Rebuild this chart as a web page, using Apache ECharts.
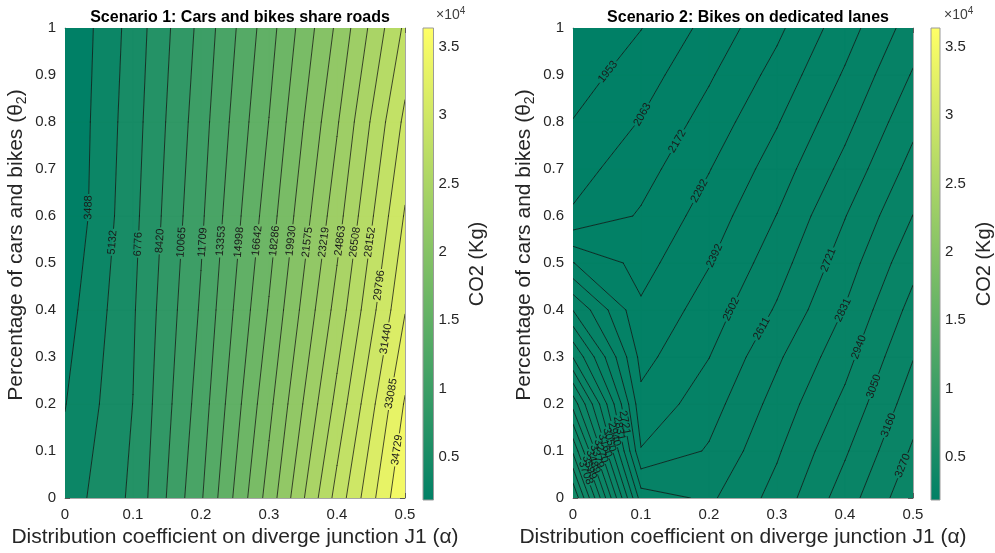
<!DOCTYPE html>
<html>
<head>
<meta charset="utf-8">
<script src="https://cdn.jsdelivr.net/npm/echarts@6.0.0/dist/echarts.min.js"></script>
<style>
html,body{margin:0;padding:0;background:#ffffff;}
#chart{width:995px;height:553px;}
</style>
</head>
<body>
<div id="chart"></div>
<script>
// ---------------- DATA ----------------
const alphaValues = [0, 0.1, 0.2, 0.3, 0.4, 0.5];

// Scenario 1: rows = theta values, columns = alpha values (CO2 in kg)
const thetaValuesS1 = [0, 0.2, 0.4, 0.6, 0.8, 1.0];
const co2S1 = [
  [4200, 7105, 13158, 20626, 28758, 36373],
  [3427, 6797, 12497, 19484, 27006, 34900],
  [2767, 6586, 11918, 18420, 25481, 33000],
  [2030, 6290, 11420, 17490, 24180, 31600],
  [1971, 6042, 10992, 16678, 23044, 30200],
  [1844, 5790, 10549, 15960, 21884, 28480]
];

// Scenario 2: rows = theta values, columns = alpha values (CO2 in kg)
const thetaValuesS2 = [0, 0.1, 0.2, 0.3, 0.4, 0.5, 0.6, 0.7, 0.8, 0.9, 1.0];
const co2S2 = [
  [4148, 2777, 2700, 2871, 3105, 3355],
  [3800, 2509, 2623, 2817, 3036, 3286],
  [3450, 2424, 2563, 2763, 2967, 3220],
  [3045, 2357, 2500, 2703, 2902, 3155],
  [2718, 2299, 2444, 2624, 2837, 3088],
  [2395, 2242, 2386, 2563, 2777, 3016],
  [2077, 2185, 2332, 2505, 2717, 2942],
  [2020, 2127, 2277, 2445, 2645, 2871],
  [1957, 2069, 2217, 2384, 2578, 2801],
  [1900, 2011, 2158, 2321, 2515, 2731],
  [1843, 1950, 2098, 2258, 2453, 2663]
];

const levelsS1 = [3488, 5132, 6776, 8420, 10065, 11709, 13353, 14998, 16642, 18286,
                  19930, 21575, 23219, 24863, 26508, 28152, 29796, 31440, 33085, 34729];
const levelsS2 = [1953, 2063, 2172, 2282, 2392, 2502, 2611, 2721, 2831, 2940,
                  3050, 3160, 3270, 3379, 3489, 3599, 3708, 3818, 3928, 4038];
const minS1 = 1844;
const minS2 = 1843;
const colorLimits = [1843, 36373];
const colorbarTicks = [5000, 10000, 15000, 20000, 25000, 30000, 35000];

// ---------------- LAYOUT: contour-label anchors [level, alpha, theta] ----------------
const labelAnchorsS1 = [
  [3488, .034, .618], [5132, .071, .544], [6776, .110, .540], [8420, .141, .547],
  [10065, .172, .544], [11709, .203, .544], [13353, .230, .547], [14998, .257, .544],
  [16642, .284, .547], [18286, .309, .547], [19930, .334, .547], [21575, .358, .544],
  [23219, .382, .544], [24863, .406, .547], [26508, .428, .544], [28152, .451, .544],
  [29796, .463, .452], [31440, .471, .339], [33085, .480, .222], [34729, .490, .102]
];
const labelAnchorsS2 = [
  [1953, .051, .907], [2063, .103, .815], [2172, .157, .756], [2282, .190, .650],
  [2392, .209, .515], [2502, .235, .400], [2611, .282, .357], [2721, .373, .508],
  [2831, .397, .400], [2940, .422, .320], [3050, .443, .237], [3160, .464, .155],
  [3270, .483, .070],
  [2721, .075, .160], [2831, .068, .148], [2940, .061, .136], [3050, .054, .124],
  [3160, .046, .111], [3270, .039, .099], [3379, .032, .087], [3489, .025, .075],
  [3599, .018, .062], [3708, .011, .050]
];

const FONT = '"Liberation Sans", Arial, Helvetica, sans-serif';
const TEXT_COLOR = '#262626';

// MATLAB "summer" colormap
function summerColor(v) {
  let t = (v - colorLimits[0]) / (colorLimits[1] - colorLimits[0]);
  t = Math.max(0, Math.min(1, t));
  return 'rgb(' + Math.round(255 * t) + ',' + Math.round(255 * (0.5 + 0.5 * t)) + ',102)';
}

function lerpPt(pa, pb, t) {
  return [pa[0] + (pb[0] - pa[0]) * t, pa[1] + (pb[1] - pa[1]) * t];
}

// filled band polygon inside one grid cell (perimeter walk)
function bandPolygon(pts, vals, lo, hi) {
  const out = [];
  for (let k = 0; k < 4; k++) {
    const a = vals[k], b = vals[(k + 1) % 4];
    const pa = pts[k], pb = pts[(k + 1) % 4];
    if (a >= lo && a < hi) out.push(pa);
    const ts = [];
    if (isFinite(lo) && ((a >= lo) !== (b >= lo))) ts.push((lo - a) / (b - a));
    if (isFinite(hi) && ((a >= hi) !== (b >= hi))) ts.push((hi - a) / (b - a));
    ts.sort((x, y) => x - y);
    ts.forEach(t => out.push(lerpPt(pa, pb, t)));
  }
  return out;
}

function crossings(pts, vals, L) {
  const out = [];
  for (let k = 0; k < 4; k++) {
    const a = vals[k], b = vals[(k + 1) % 4];
    if ((a >= L) !== (b >= L)) out.push(lerpPt(pts[k], pts[(k + 1) % 4], (L - a) / (b - a)));
  }
  return out;
}

function clipSegment(p, q, holes) {
  let pieces = [[0, 1]];
  const dx = q[0] - p[0], dy = q[1] - p[1];
  const a = dx * dx + dy * dy;
  if (a < 1e-9) return [];
  holes.forEach(h => {
    const fx = p[0] - h.x, fy = p[1] - h.y;
    const b = 2 * (fx * dx + fy * dy), c = fx * fx + fy * fy - h.r * h.r;
    const disc = b * b - 4 * a * c;
    if (disc <= 0) return;
    const s = Math.sqrt(disc), t1 = (-b - s) / (2 * a), t2 = (-b + s) / (2 * a);
    const next = [];
    pieces.forEach(([u, v]) => {
      if (t2 <= u || t1 >= v) { next.push([u, v]); return; }
      if (t1 > u) next.push([u, t1]);
      if (t2 < v) next.push([t2, v]);
    });
    pieces = next;
  });
  return pieces.map(([u, v]) => [lerpPt(p, q, u), lerpPt(p, q, v)]);
}

function contourRenderer(thetaValues, grid, levels, zMin, anchors) {
  return function (params, api) {
    const nx = alphaValues.length, ny = thetaValues.length;
    const P = thetaValues.map(t => alphaValues.map(a => api.coord([a, t])));
    const bounds = [-Infinity].concat(levels, [Infinity]);
    const colors = [zMin].concat(levels).map(summerColor);
    const fills = [];
    const segs = levels.map(() => []);
    for (let j = 0; j < ny - 1; j++) {
      for (let i = 0; i < nx - 1; i++) {
        const pts = [P[j][i], P[j][i + 1], P[j + 1][i + 1], P[j + 1][i]];
        const vals = [grid[j][i], grid[j][i + 1], grid[j + 1][i + 1], grid[j + 1][i]];
        const vmin = Math.min.apply(null, vals), vmax = Math.max.apply(null, vals);
        for (let b = 0; b < bounds.length - 1; b++) {
          const lo = bounds[b], hi = bounds[b + 1];
          if (vmax < lo || vmin >= hi) continue;
          const poly = bandPolygon(pts, vals, lo, hi);
          if (poly.length >= 3) {
            fills.push({
              type: 'polygon', silent: true, shape: { points: poly },
              style: { fill: colors[b], stroke: colors[b], lineWidth: 0.8, lineJoin: 'round' }
            });
          }
        }
        levels.forEach((L, k) => {
          const c = crossings(pts, vals, L);
          if (c.length === 2) segs[k].push([c[0], c[1]]);
          else if (c.length === 4) {
            const center = (vals[0] + vals[1] + vals[2] + vals[3]) / 4;
            if ((center >= L) === (vals[0] >= L)) { segs[k].push([c[0], c[1]]); segs[k].push([c[2], c[3]]); }
            else { segs[k].push([c[1], c[2]]); segs[k].push([c[3], c[0]]); }
          }
        });
      }
    }
    // labels
    const holes = levels.map(() => []);
    const texts = [];
    anchors.forEach(([L, a, t]) => {
      const k = levels.indexOf(L);
      if (k < 0 || !segs[k].length) return;
      const A = api.coord([a, t]);
      let best = null;
      segs[k].forEach(([p, q]) => {
        const dx = q[0] - p[0], dy = q[1] - p[1];
        const len2 = dx * dx + dy * dy || 1e-9;
        let u = ((A[0] - p[0]) * dx + (A[1] - p[1]) * dy) / len2;
        u = Math.max(0, Math.min(1, u));
        const x = p[0] + dx * u, y = p[1] + dy * u;
        const d = (x - A[0]) * (x - A[0]) + (y - A[1]) * (y - A[1]);
        if (!best || d < best.d) best = { d, x, y, dx, dy };
      });
      let ang = Math.atan2(-best.dy, best.dx);
      if (ang > Math.PI / 2) ang -= Math.PI;
      if (ang <= -Math.PI / 2) ang += Math.PI;
      const txt = String(L);
      holes[k].push({ x: best.x, y: best.y, r: txt.length * 3.1 + 1.5 });
      texts.push({
        type: 'text', silent: true, x: best.x, y: best.y, rotation: ang,
        style: { text: txt, x: 0, y: 0, fill: '#1a1a1a', fontSize: 11, fontFamily: FONT,
                 align: 'center', verticalAlign: 'middle' }
      });
    });
    const lines = [];
    segs.forEach((list, k) => {
      list.forEach(([p, q]) => {
        clipSegment(p, q, holes[k]).forEach(([m, n]) => {
          lines.push({
            type: 'line', silent: true,
            shape: { x1: m[0], y1: m[1], x2: n[0], y2: n[1] },
            style: { stroke: '#111111', lineWidth: 0.75, lineCap: 'round' }
          });
        });
      });
    });
    return { type: 'group', children: fills.concat(lines, texts) };
  };
}

function colorbarRenderer(params, api) {
  const p0 = api.coord([0, colorLimits[1]]);
  const p1 = api.coord([1, colorLimits[0]]);
  return {
    type: 'rect', silent: true,
    shape: { x: p0[0], y: p0[1], width: p1[0] - p0[0], height: p1[1] - p0[1] },
    style: {
      fill: new echarts.graphic.LinearGradient(0, 0, 0, 1, [
        { offset: 0, color: summerColor(colorLimits[1]) },
        { offset: 1, color: summerColor(colorLimits[0]) }
      ]),
      stroke: '#9a9a9a', lineWidth: 1
    }
  };
}

// ---------------- AXES ----------------
const axisLineStyle = { color: '#a6a6a6', width: 1 };
const tickStyle = { color: '#5a5a5a', width: 1 };
const tickLabel = { fontSize: 15, color: TEXT_COLOR, fontFamily: FONT };
const NAME_SIZE = 21;

function mainXAxes(gridIndex) {
  return [
    { type: 'value', gridIndex, min: 0, max: 0.5, interval: 0.1, position: 'bottom',
      name: 'Distribution coefficient on diverge junction J1 (\u03b1)', nameLocation: 'middle', nameGap: 29,
      nameTextStyle: { fontSize: NAME_SIZE, color: TEXT_COLOR, fontFamily: FONT },
      axisLine: { show: true, onZero: false, lineStyle: axisLineStyle },
      axisTick: { show: true, inside: true, length: 5, lineStyle: tickStyle },
      axisLabel: Object.assign({ margin: 9 }, tickLabel), splitLine: { show: false } },
    { type: 'value', gridIndex, min: 0, max: 0.5, interval: 0.1, position: 'top',
      axisLine: { show: true, onZero: false, lineStyle: axisLineStyle },
      axisTick: { show: true, inside: true, length: 5, lineStyle: tickStyle },
      axisLabel: { show: false }, splitLine: { show: false } }
  ];
}
function mainYAxes(gridIndex) {
  return [
    { type: 'value', gridIndex, min: 0, max: 1, interval: 0.1, position: 'left',
      name: '{m|Percentage of cars and bikes (\u03b8}{s|2}{m|)}', nameLocation: 'middle', nameGap: 36, nameRotate: 90,
      nameTextStyle: { fontSize: NAME_SIZE, color: TEXT_COLOR, fontFamily: FONT, padding: [0, 0, 0, 36],
        rich: { m: { fontSize: NAME_SIZE, color: TEXT_COLOR, fontFamily: FONT, lineHeight: 26 },
                s: { fontSize: 14, color: TEXT_COLOR, fontFamily: FONT, lineHeight: 15, verticalAlign: 'bottom' } } },
      axisLine: { show: true, onZero: false, lineStyle: axisLineStyle },
      axisTick: { show: true, inside: true, length: 5, lineStyle: tickStyle },
      axisLabel: Object.assign({ margin: 9 }, tickLabel), splitLine: { show: false } },
    { type: 'value', gridIndex, min: 0, max: 1, interval: 0.1, position: 'right',
      axisLine: { show: true, onZero: false, lineStyle: axisLineStyle },
      axisTick: { show: true, inside: true, length: 5, lineStyle: tickStyle },
      axisLabel: { show: false }, splitLine: { show: false } }
  ];
}
function colorbarXAxis(gridIndex) {
  return { type: 'value', gridIndex, min: 0, max: 1, show: false };
}
function colorbarYAxis(gridIndex) {
  return { type: 'value', gridIndex, min: colorLimits[0], max: colorLimits[1], position: 'right',
    name: 'CO2 (Kg)', nameLocation: 'middle', nameRotate: 90, nameGap: 34,
    nameTextStyle: { fontSize: 20, color: TEXT_COLOR, fontFamily: FONT },
    axisLine: { show: false },
    axisTick: { show: true, inside: false, length: 3, customValues: colorbarTicks, lineStyle: tickStyle },
    axisLabel: Object.assign({ margin: 5, customValues: colorbarTicks, formatter: v => String(v / 10000) }, tickLabel),
    splitLine: { show: false } };
}

const chart = echarts.init(document.getElementById('chart'), null, { renderer: 'canvas' });
chart.setOption({
  animation: false,
  backgroundColor: '#ffffff',
  title: [
    { text: 'Scenario 1: Cars and bikes share roads', left: 235, top: 5, textAlign: 'center',
      textStyle: { fontSize: 16, fontWeight: 'bold', color: '#000', fontFamily: FONT } },
    { text: 'Scenario 2: Bikes on dedicated lanes', left: 743, top: 5, textAlign: 'center',
      textStyle: { fontSize: 16, fontWeight: 'bold', color: '#000', fontFamily: FONT } }
  ],
  grid: [
    { left: 65, top: 28, width: 340, height: 472 },
    { left: 573, top: 28, width: 340, height: 472 },
    { left: 423, top: 28, width: 10.5, height: 472 },
    { left: 931, top: 28, width: 10.5, height: 472 }
  ],
  xAxis: [].concat(mainXAxes(0), mainXAxes(1), [colorbarXAxis(2), colorbarXAxis(3)]),
  yAxis: [].concat(mainYAxes(0), mainYAxes(1), [colorbarYAxis(2), colorbarYAxis(3)]),
  graphic: [
    { type: 'text', left: 436, top: 6, silent: true,
      style: { text: '{a|\u00d710}{b|4}', rich: { a: { fontSize: 14, fill: '#404040', fontFamily: FONT, lineHeight: 19 },
        b: { fontSize: 10, fill: '#404040', fontFamily: FONT, lineHeight: 11, verticalAlign: 'top' } } } },
    { type: 'text', left: 944, top: 6, silent: true,
      style: { text: '{a|\u00d710}{b|4}', rich: { a: { fontSize: 14, fill: '#404040', fontFamily: FONT, lineHeight: 19 },
        b: { fontSize: 10, fill: '#404040', fontFamily: FONT, lineHeight: 11, verticalAlign: 'top' } } } }
  ],
  series: [
    { type: 'custom', xAxisIndex: 0, yAxisIndex: 0, clip: true, data: [[0, 0]],
      renderItem: contourRenderer(thetaValuesS1, co2S1, levelsS1, minS1, labelAnchorsS1) },
    { type: 'custom', xAxisIndex: 2, yAxisIndex: 2, clip: true, data: [[0, 0]],
      renderItem: contourRenderer(thetaValuesS2, co2S2, levelsS2, minS2, labelAnchorsS2) },
    { type: 'custom', xAxisIndex: 4, yAxisIndex: 4, data: [[0, colorLimits[0]]], renderItem: colorbarRenderer },
    { type: 'custom', xAxisIndex: 5, yAxisIndex: 5, data: [[0, colorLimits[0]]], renderItem: colorbarRenderer }
  ]
});
</script>
</body>
</html>
